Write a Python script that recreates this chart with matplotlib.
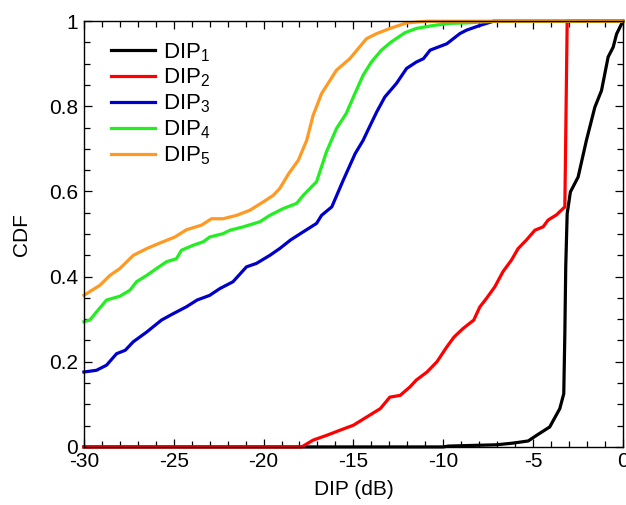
import matplotlib
matplotlib.use("Agg")
import matplotlib.pyplot as plt
from matplotlib.ticker import MultipleLocator

plt.rcParams['font.family'] = ['Liberation Sans', 'DejaVu Sans']
plt.rcParams['mathtext.default'] = 'regular'

# ---- data ----
dip1_x = [-30, -17.9, -10.0, -9.7, -7.96, -7.03, -6.11, -5.27, -4.81, -4.07, -3.51, -3.29,
          -3.23, -3.18, -3.1, -2.92, -2.49, -2.03, -1.56, -1.19, -0.82, -0.54, -0.35, 0]
dip1_y = [0, 0, 0, 0.002, 0.004, 0.005, 0.009, 0.014, 0.027, 0.047, 0.090, 0.125,
          0.266, 0.423, 0.548, 0.599, 0.634, 0.72, 0.798, 0.837, 0.916, 0.939, 0.97, 1.0]

dip2_x = [-30, -17.88, -17.24, -16.5, -15.76, -15.0, -14.27, -13.5, -12.97, -12.4, -11.85,
          -11.5, -10.9, -10.35, -9.8, -9.4, -8.9, -8.3, -7.96, -7.59, -7.13, -6.67, -6.2,
          -5.83, -5.37, -4.9, -4.44, -4.16, -3.7, -3.23, -3.1, 0]
dip2_y = [0, 0, 0.016, 0.027, 0.039, 0.051, 0.07, 0.09, 0.117, 0.121, 0.141,
          0.157, 0.176, 0.2, 0.235, 0.258, 0.278, 0.298, 0.329, 0.349, 0.376, 0.412, 0.439,
          0.466, 0.486, 0.509, 0.517, 0.533, 0.545, 0.564, 1.0, 1.0]

dip3_x = [-30, -29.3, -28.74, -28.18, -27.7, -27.25, -26.5, -25.68, -25.03, -24.3, -23.7,
          -23.0, -22.43, -21.7, -20.95, -20.4, -19.65, -19.1, -18.5, -17.8, -17.05, -16.77,
          -16.2, -15.57, -14.9, -14.46, -14.1, -13.7, -13.25, -12.6, -12.04, -11.5, -11.1,
          -10.73, -9.8, -9.07, -8.7, -7.96, -7.5, -7.2, 0]
dip3_y = [0.176, 0.18, 0.192, 0.219, 0.227, 0.247, 0.27, 0.298, 0.313, 0.329, 0.345,
          0.356, 0.372, 0.388, 0.423, 0.431, 0.45, 0.466, 0.486, 0.505, 0.525, 0.544,
          0.564, 0.626, 0.689, 0.72, 0.752, 0.787, 0.822, 0.854, 0.889, 0.904, 0.912,
          0.932, 0.947, 0.971, 0.979, 0.99, 0.996, 1.0, 1.0]

dip4_x = [-30, -29.67, -29.3, -28.74, -28.0, -27.44, -27.07, -26.5, -25.96, -25.4, -24.85,
          -24.57, -23.9, -23.35, -23.0, -22.25, -21.87, -21.13, -20.2, -19.65, -18.9,
          -18.16, -17.79, -17.05, -16.5, -15.94, -15.4, -15.0, -14.46, -14.0, -13.44,
          -12.9, -12.13, -11.5, -10.55, -9.6, -8.7, -7.96, -7.0, 0]
dip4_y = [0.294, 0.298, 0.317, 0.345, 0.354, 0.368, 0.388, 0.403, 0.419, 0.435, 0.442,
          0.462, 0.474, 0.482, 0.493, 0.501, 0.509, 0.517, 0.529, 0.544, 0.56,
          0.572, 0.591, 0.623, 0.693, 0.748, 0.783, 0.822, 0.873, 0.904, 0.932,
          0.951, 0.973, 0.983, 0.99, 0.995, 0.996, 0.998, 1.0, 1.0]

dip5_x = [-30, -29.1, -28.55, -28.0, -27.25, -26.5, -25.77, -24.94, -24.3, -23.45, -22.9,
          -22.25, -21.5, -20.76, -20.0, -19.46, -19.1, -18.6, -18.07, -17.6, -17.24,
          -16.77, -15.94, -15.2, -14.27, -13.7, -12.97, -12.04, -10.9, 0]
dip5_y = [0.356, 0.38, 0.403, 0.419, 0.45, 0.466, 0.479, 0.493, 0.51, 0.521, 0.536,
          0.536, 0.544, 0.556, 0.576, 0.591, 0.607, 0.642, 0.673, 0.72, 0.779,
          0.83, 0.885, 0.912, 0.959, 0.971, 0.983, 0.996, 1.0, 1.0]

labels = [r'DIP$_1$', r'DIP$_2$', r'DIP$_3$', r'DIP$_4$', r'DIP$_5$']
colors = ['#000000', '#FF0000', '#0000CC', '#22EE22', '#FF9922']

xticks = [-30, -25, -20, -15, -10, -5, 0]
xticklabels = ['-30', '-25', '-20', '-15', '-10', '-5', '0']
yticks = [0, 0.2, 0.4, 0.6, 0.8, 1.0]
yticklabels = ['0', '0.2', '0.4', '0.6', '0.8', '1']

fig = plt.figure(figsize=(6.26, 5.05), dpi=100)
ax = fig.add_axes([0.134, 0.115, 0.861, 0.843])

series = [(dip1_x, dip1_y), (dip2_x, dip2_y), (dip3_x, dip3_y), (dip4_x, dip4_y), (dip5_x, dip5_y)]
for (xs, ys), lab, c in zip(series, labels, colors):
    ax.plot(xs, ys, color=c, lw=2.3, label=lab, solid_joinstyle='round', clip_on=False)

ax.set_xlim(-30, 0)
ax.set_ylim(0, 1)
ax.set_xticks(xticks)
ax.set_xticklabels(xticklabels)
ax.set_yticks(yticks)
ax.set_yticklabels(yticklabels)
ax.xaxis.set_minor_locator(MultipleLocator(1))
ax.yaxis.set_minor_locator(MultipleLocator(0.05))
ax.tick_params(which='both', direction='in', top=True, right=True, width=0.9, labelsize=15)
ax.tick_params(which='major', length=6, pad=4)
ax.tick_params(which='minor', length=4)
for s in ax.spines.values():
    s.set_linewidth(1.0)

ax.set_xlabel('DIP (dB)', fontsize=15, labelpad=6)
ax.set_ylabel('CDF', fontsize=15, labelpad=13)

ax.legend(loc='upper left', bbox_to_anchor=(0.025, 0.985), frameon=False, fontsize=16,
          handlelength=2.0, handletextpad=0.35, labelspacing=0.15, borderaxespad=0.2)

fig.savefig('out.png', dpi=100)
